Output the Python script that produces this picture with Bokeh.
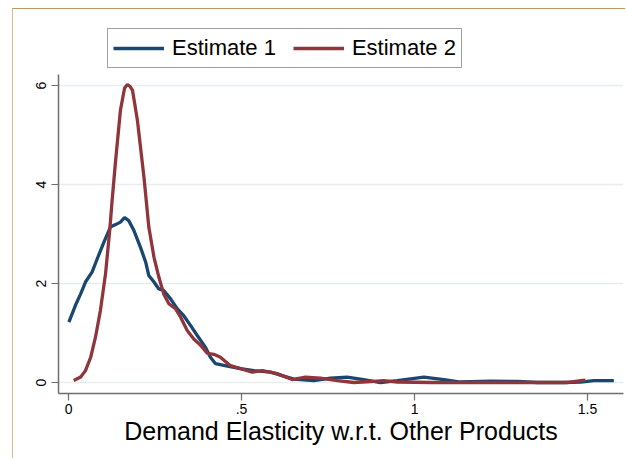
from bokeh.plotting import figure
from bokeh.models import Range1d, Legend, LegendItem, FixedTicker
from bokeh.embed import file_html
from bokeh.resources import INLINE

# ---- data ----
est1_x = [0.001, 0.020, 0.035, 0.049, 0.068, 0.083, 0.102, 0.121, 0.136, 0.150, 0.162, 0.174,
          0.189, 0.208, 0.223, 0.232, 0.247, 0.261, 0.275, 0.295, 0.314, 0.333, 0.353, 0.372,
          0.396, 0.410, 0.425, 0.459, 0.497, 0.536, 0.584, 0.651, 0.709, 0.757, 0.805, 0.853,
          0.902, 0.950, 1.027, 1.085, 1.133, 1.220, 1.297, 1.355, 1.430, 1.480, 1.518, 1.576]
est1_y = [1.22, 1.56, 1.79, 2.03, 2.23, 2.50, 2.83, 3.14, 3.19, 3.24, 3.33, 3.27,
          3.07, 2.73, 2.43, 2.16, 2.03, 1.89, 1.86, 1.69, 1.49, 1.35, 1.15, 0.95,
          0.71, 0.51, 0.38, 0.33, 0.28, 0.24, 0.21, 0.07, 0.04, 0.09, 0.11, 0.06,
          0.00, 0.04, 0.11, 0.06, 0.01, 0.03, 0.02, 0.00, 0.00, 0.01, 0.04, 0.04]

est2_x = [0.015, 0.035, 0.049, 0.064, 0.078, 0.092, 0.107, 0.119, 0.126, 0.136, 0.150, 0.162,
          0.170, 0.178, 0.185, 0.199, 0.218, 0.232, 0.247, 0.261, 0.275, 0.290, 0.309, 0.324,
          0.343, 0.362, 0.382, 0.401, 0.420, 0.439, 0.468, 0.497, 0.531, 0.560, 0.603, 0.646,
          0.685, 0.728, 0.777, 0.825, 0.873, 0.911, 0.950, 1.050, 1.200, 1.350, 1.441, 1.480,
          1.494]
est2_y = [0.04, 0.11, 0.24, 0.51, 0.92, 1.45, 2.20, 3.07, 3.68, 4.48, 5.50, 5.95,
          6.02, 5.98, 5.90, 5.30, 4.15, 3.14, 2.53, 2.13, 1.79, 1.59, 1.49, 1.32,
          1.05, 0.88, 0.75, 0.59, 0.57, 0.51, 0.34, 0.28, 0.21, 0.24, 0.18, 0.06,
          0.11, 0.09, 0.04, 0.00, 0.02, 0.04, 0.01, 0.00, 0.00, 0.00, 0.00, 0.04,
          0.05]

x_ticks = [0, 0.5, 1, 1.5]
x_tick_labels = ["0", ".5", "1", "1.5"]
y_ticks = [0, 2, 4, 6]
series_names = ["Estimate 1", "Estimate 2"]
series_colors = ["#1a476f", "#90353b"]
x_title = "Demand Elasticity w.r.t. Other Products"

FONT = "Liberation Sans"

# y axis drawn from -0.222 to 6.22; range extended upward to hold the legend
p = figure(width=613, height=450, output_backend="svg", toolbar_location=None,
           x_range=Range1d(-0.029, 1.604), y_range=Range1d(-0.222, 7.313),
           min_border_left=45, min_border_right=3, min_border_top=11, min_border_bottom=66)
p.styles = {"position": "relative", "top": "8px", "left": "12px",
            "border-top": "1px solid #b49a5c", "border-left": "1px solid #d3c08e"}
p.outline_line_color = None
p.background_fill_color = "white"
p.border_fill_color = "white"

r1 = p.line(est1_x, est1_y, line_color=series_colors[0], line_width=3.3)
r2 = p.line(est2_x, est2_y, line_color=series_colors[1], line_width=3.3)

# axes
for ax in (p.xaxis[0], p.yaxis[0]):
    ax.axis_line_color = "#6e6e6e"
    ax.axis_line_width = 1.5
    ax.major_tick_line_color = "#6e6e6e"
    ax.major_tick_line_width = 1.2
    ax.major_tick_in = 0
    ax.major_tick_out = 7
    ax.minor_tick_line_color = None
    ax.major_label_text_font = FONT
    ax.major_label_text_font_size = "14px"
    ax.major_label_text_color = "black"

p.xaxis.ticker = FixedTicker(ticks=x_ticks)
p.xaxis.major_label_overrides = {t: s for t, s in zip(x_ticks, x_tick_labels)}
p.xaxis.major_label_standoff = 3
p.xaxis.axis_label = x_title
p.xaxis.axis_label_text_font = FONT
p.xaxis.axis_label_text_font_size = "25px"
p.xaxis.axis_label_text_font_style = "normal"
p.xaxis.axis_label_text_color = "black"
p.xaxis.axis_label_standoff = 0

p.yaxis.ticker = FixedTicker(ticks=y_ticks)
p.yaxis.bounds = (-0.222, 6.22)
p.yaxis.major_label_orientation = "vertical"
p.yaxis.major_label_standoff = 5

p.xgrid.grid_line_color = None
p.ygrid.ticker = FixedTicker(ticks=y_ticks)
p.ygrid.grid_line_color = "#e6eef0"
p.ygrid.grid_line_width = 1.5

legend = Legend(items=[LegendItem(label=series_names[0], renderers=[r1]),
                       LegendItem(label=series_names[1], renderers=[r2])],
                orientation="horizontal", location=(49, 325))
legend.label_text_font = FONT
legend.label_text_font_size = "22px"
legend.label_text_color = "black"
legend.border_line_color = "#404040"
legend.border_line_width = 1
legend.background_fill_color = "white"
legend.background_fill_alpha = 1
legend.padding = 5
legend.margin = 0
legend.spacing = 17
legend.glyph_width = 51
legend.glyph_height = 28
legend.label_height = 28
legend.label_standoff = 8
p.add_layout(legend, "center")

open("out.html", "w").write(file_html(p, INLINE))
